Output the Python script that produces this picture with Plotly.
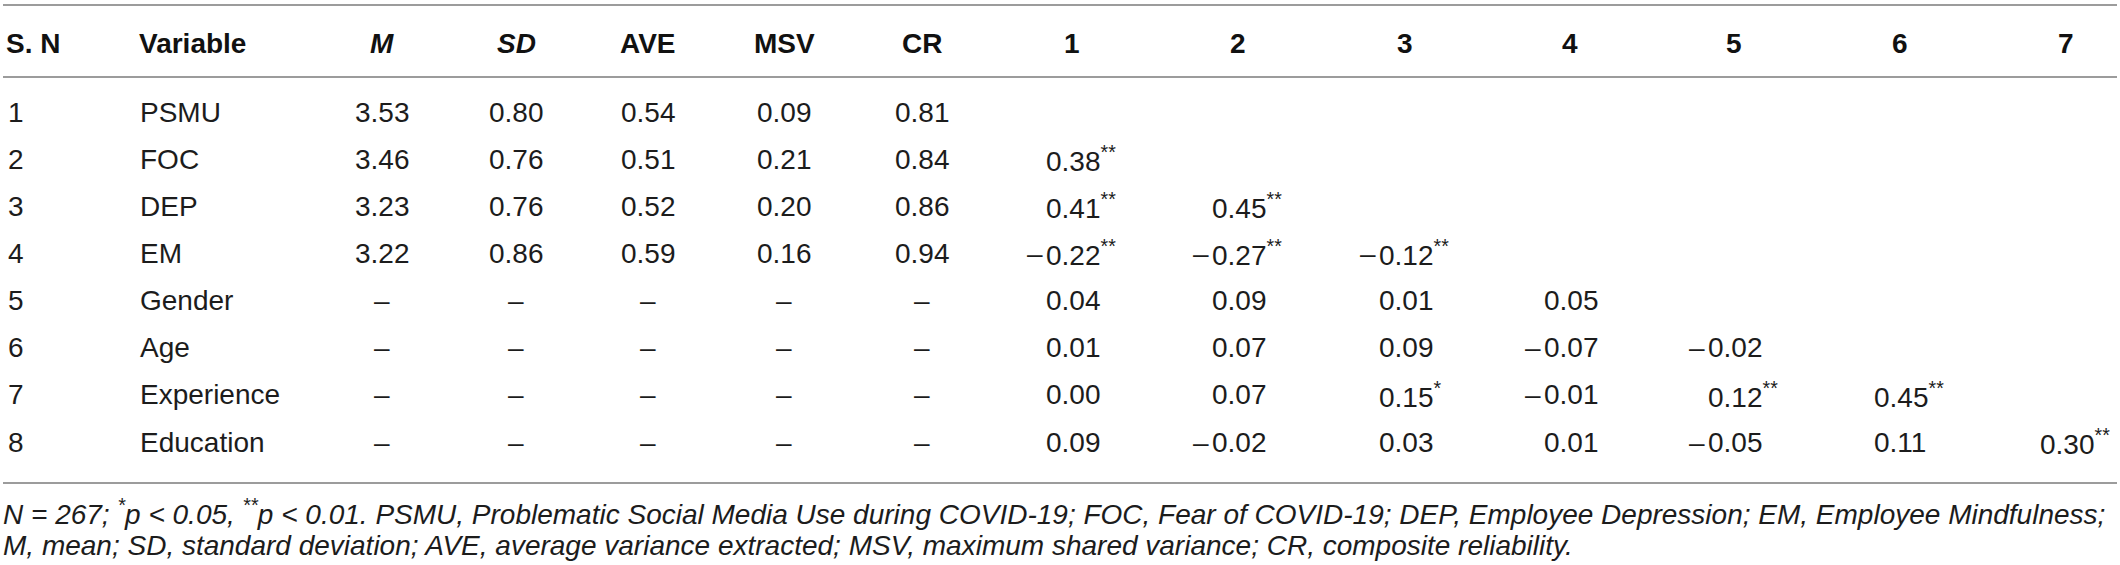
import plotly.graph_objects as go

# ---------------- data ----------------
headers = ["S. N", "Variable", "M", "SD", "AVE", "MSV", "CR", "1", "2", "3", "4", "5", "6", "7"]
header_italic = [False, False, True, True, False, False, False, False, False, False, False, False, False, False]
sn = ["1", "2", "3", "4", "5", "6", "7", "8"]
variables = ["PSMU", "FOC", "DEP", "EM", "Gender", "Age", "Experience", "Education"]
means = ["3.53", "3.46", "3.23", "3.22", "–", "–", "–", "–"]
sds = ["0.80", "0.76", "0.76", "0.86", "–", "–", "–", "–"]
aves = ["0.54", "0.51", "0.52", "0.59", "–", "–", "–", "–"]
msvs = ["0.09", "0.21", "0.20", "0.16", "–", "–", "–", "–"]
crs = ["0.81", "0.84", "0.86", "0.94", "–", "–", "–", "–"]
correlations = [
    [],
    ["0.38**"],
    ["0.41**", "0.45**"],
    ["-0.22**", "-0.27**", "-0.12**"],
    ["0.04", "0.09", "0.01", "0.05"],
    ["0.01", "0.07", "0.09", "-0.07", "-0.02"],
    ["0.00", "0.07", "0.15*", "-0.01", "0.12**", "0.45**"],
    ["0.09", "-0.02", "0.03", "0.01", "-0.05", "0.11", "0.30**"],
]
footnotes = [
    "N = 267; <sup>*</sup>p &lt; 0.05, <sup>**</sup>p &lt; 0.01. PSMU, Problematic Social Media Use during COVID-19; "
    "FOC, Fear of COVID-19; DEP, Employee Depression; EM, Employee Mindfulness;",
    "M, mean; SD, standard deviation; AVE, average variance extracted; MSV, maximum shared variance; "
    "CR, composite reliability.",
]

# ---------------- layout constants ----------------
W, H = 2120, 565
FONT = "Liberation Sans, Arial, Helvetica, sans-serif"
TXT = "#1c1c1c"
FS = 28
FN_FS = 28
left_cols = [5, 138]            # S. N, Variable (left aligned)
desc_centers = [382, 516, 648, 784, 922]
corr_centers = [1072, 1238, 1405, 1570, 1734, 1900, 2066]
header_y = 43
row_y0, row_dy = 112, 47.15
line_ys = [5, 77, 483]
fn_ys = [512, 545]
half_num = 27.2                # half width of "0.00" at FS

ann = []


def add(text, x, y, anchor, size=FS, color=TXT):
    ann.append(dict(text=text, x=x, y=y, xref="x", yref="y", xanchor=anchor, yanchor="middle",
                    showarrow=False, font=dict(family=FONT, size=size, color=color),
                    borderpad=0))


# header
hx = left_cols + desc_centers + corr_centers
for i, h in enumerate(headers):
    t = f"<b><i>{h}</i></b>" if header_italic[i] else f"<b>{h}</b>"
    add(t, hx[i], header_y, "left" if i < 2 else "center", color="#111111")

# body
desc = [means, sds, aves, msvs, crs]
for r in range(len(sn)):
    y = row_y0 + r * row_dy
    add(sn[r], left_cols[0] + 2, y, "left")
    add(variables[r], left_cols[1] + 1, y, "left")
    for c, col in enumerate(desc):
        add(col[r], desc_centers[c], y, "center")
    for c, val in enumerate(correlations[r]):
        neg = val.startswith("-")
        core = val.lstrip("-")
        stars = core.count("*")
        num = core.replace("*", "")
        t = num + (f"<sup>{'*' * stars}</sup>" if stars else "")
        xl = corr_centers[c] - half_num
        add(t, xl, y, "left")
        if neg:
            add("–", xl - 1, y, "right")

# footnotes
for k, f in enumerate(footnotes):
    add(f"<i>{f}</i>", 2, fn_ys[k], "left", size=FN_FS)

shapes = [dict(type="line", xref="x", yref="y", x0=3, x1=2117, y0=ly, y1=ly,
               line=dict(color="#9c9c9c", width=2)) for ly in line_ys]

fig = go.Figure(go.Scatter(x=[], y=[]))
fig.update_layout(
    width=W, height=H, margin=dict(l=0, r=0, t=0, b=0),
    paper_bgcolor="white", plot_bgcolor="white",
    xaxis=dict(range=[0, W], visible=False, fixedrange=True),
    yaxis=dict(range=[H, 0], visible=False, fixedrange=True),
    annotations=ann, shapes=shapes, showlegend=False,
)
fig.write_html("out.html", config={"displayModeBar": False},
               post_script="document.body.style.margin='0';document.body.style.overflow='hidden';")
